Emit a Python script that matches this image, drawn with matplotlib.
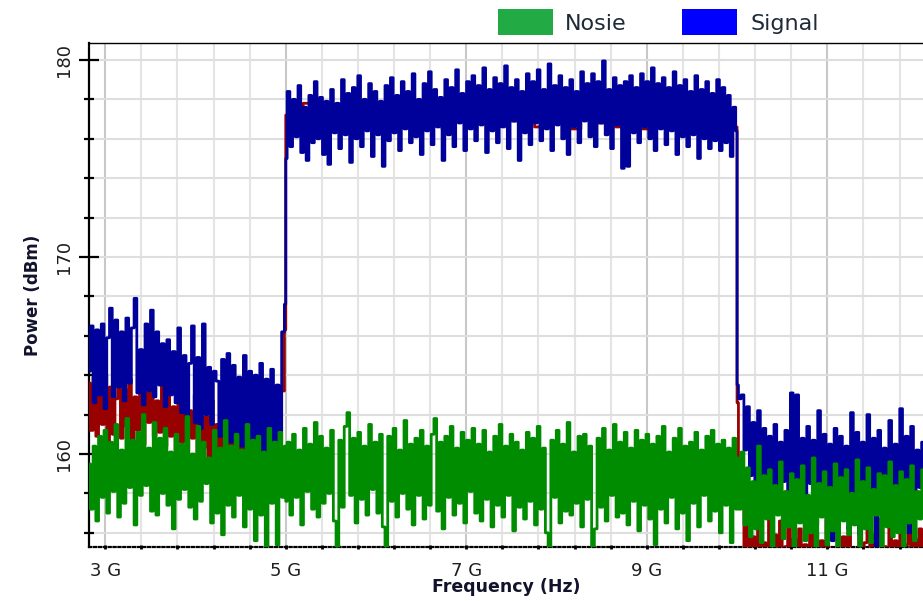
import numpy as np
import matplotlib
matplotlib.use('Agg')
import matplotlib.pyplot as plt
from matplotlib.patches import Rectangle
from matplotlib.ticker import FixedLocator

# band edges in GHz: below the carrier, the occupied band, above it
band_edges = [2.82, 5.0, 10.0, 12.06]

# signal trace (blue), one list per band
signal_low = [164.2, 166.5, 162.6, 166.3, 163.0, 166.6, 162.3, 165.9, 167.4, 162.9,
              166.8, 163.4, 166.2, 162.7, 166.9, 163.6, 166.4, 167.9, 163.1, 165.3,
              162.5, 166.6, 163.2, 167.3, 162.9, 166.2, 163.5, 165.6, 162.4, 165.8,
              163.0, 165.2, 162.6, 166.4, 162.1, 165.0, 161.8, 164.6, 166.5, 161.6,
              164.9, 161.3, 166.6, 162.0, 164.4, 161.5, 164.2, 163.7, 160.9, 164.8,
              161.2, 165.1, 160.6, 164.5, 161.0, 163.9, 160.4, 165.0, 159.9, 164.2,
              158.7, 164.0, 160.3, 164.6, 159.6, 163.8, 160.1, 164.3, 159.2, 163.5,
              160.0, 166.2, 167.6]
signal_mid = [175.0, 178.4, 175.6, 178.0, 176.1, 178.7, 175.3, 177.6, 174.9, 178.2,
              175.8, 178.9, 176.0, 178.1, 175.2, 177.9, 174.7, 178.5, 176.3, 177.8,
              175.5, 179.0, 176.2, 178.3, 174.8, 178.6, 176.0, 179.2, 175.6, 178.0,
              176.4, 178.8, 175.1, 178.4, 176.2, 177.9, 174.6, 178.7, 175.9, 179.1,
              176.3, 178.2, 175.4, 178.9, 176.5, 178.4, 175.8, 179.3, 176.1, 178.0,
              175.2, 178.8, 176.4, 179.4, 175.7, 178.5, 176.6, 178.1, 174.9, 179.0,
              176.2, 178.6, 175.6, 179.5, 176.8, 178.3, 175.4, 178.9, 176.5, 179.2,
              175.9, 178.7, 176.7, 179.6, 175.3, 178.5, 176.4, 179.1, 175.8, 178.8,
              176.6, 179.7, 175.5, 178.6, 176.9, 179.0, 174.9, 178.4, 176.3, 179.3,
              175.7, 178.9, 176.8, 179.5, 175.9, 178.5, 176.5, 179.8, 175.4, 178.7,
              176.7, 179.2, 176.0, 178.6, 175.2, 179.0, 176.6, 178.4, 175.8, 179.4,
              176.9, 178.8, 176.1, 179.3, 175.6, 178.9, 176.8, 179.95, 176.2, 178.5,
              175.5, 179.1, 176.7, 178.7, 174.5, 178.9, 174.6, 179.2, 176.3, 178.6,
              175.8, 179.3, 176.6, 178.9, 176.0, 179.6, 175.4, 178.8, 176.5, 179.1,
              175.7, 178.6, 176.4, 179.4, 175.2, 178.7, 176.1, 179.0, 175.6, 178.4,
              176.2, 179.2, 175.0, 178.5, 176.0, 178.9, 175.5, 178.3, 175.9, 179.0,
              175.4, 178.6, 175.8, 178.2, 175.1, 177.6, 176.4]
signal_high = [163.5, 162.8, 163.0, 160.2, 162.4, 158.9, 161.6, 157.6, 162.2, 158.4,
               161.3, 156.9, 160.9, 158.1, 161.5, 157.3, 160.6, 158.6, 161.2, 156.8,
               163.1, 157.9, 163.0, 158.3, 160.8, 157.1, 161.4, 158.5, 160.7, 156.4,
               162.2, 157.8, 161.0, 158.2, 160.5, 155.6, 161.3, 157.5, 160.9, 158.0,
               160.4, 156.2, 162.1, 157.7, 161.1, 155.9, 160.6, 158.4, 162.0, 157.2,
               160.8, 155.3, 161.2, 157.9, 160.3, 158.6, 161.7, 156.6, 160.5, 157.3,
               162.3, 158.1, 160.9, 156.0, 161.4, 157.6, 160.2, 158.3, 160.6]

# reference trace (dark red), sits under the signal
ref_low = [163.6, 161.2, 163.9, 160.9, 163.2, 161.5, 164.0, 160.6, 163.4, 161.0,
           162.8, 163.7, 160.8, 163.3, 161.4, 163.8, 160.7, 162.9, 161.2, 163.5,
           160.5, 163.1, 161.6, 164.1, 160.9, 162.7, 161.1, 163.6, 160.4, 163.0,
           160.9, 162.4, 160.2, 163.3, 160.6, 162.6, 159.9, 162.2, 160.8, 163.0,
           159.7, 162.5, 160.3, 161.9, 159.6, 162.7, 160.1, 161.5, 159.4, 162.3,
           159.9, 161.8, 159.2, 162.0, 159.7, 161.6, 158.9, 161.4, 159.5, 162.1,
           158.6, 161.2, 159.3, 161.7, 158.8, 161.0, 159.1, 161.9, 158.7, 161.3,
           159.6, 163.2, 166.3]
ref_mid = [177.2, 176.4, 177.8, 176.6, 177.5, 176.5, 177.9, 176.8, 177.7, 176.6,
           177.9, 176.7, 177.4, 177.8, 176.5, 177.6, 176.8, 177.9, 176.6, 177.7,
           176.9, 177.8, 176.6, 177.5, 177.9, 176.5, 177.8, 176.8, 177.9, 176.6,
           177.3, 176.5, 177.8, 176.9, 177.6, 176.4, 177.7, 176.5, 177.2, 176.6]
ref_high = [162.6, 159.4, 157.6, 155.1, 156.4, 154.2, 155.8, 153.9, 156.9, 154.6,
            155.5, 153.7, 157.2, 154.9, 155.9, 154.1, 156.6, 153.5, 155.3, 157.8,
            154.4, 155.7, 153.8, 156.2, 154.7, 155.4, 153.6, 157.3, 154.8, 156.0,
            154.0, 155.6, 153.4, 156.8, 154.5, 155.2, 153.9, 157.1, 154.3, 155.8,
            153.6, 156.3, 154.9, 155.1, 153.7, 156.5, 154.2, 155.5, 157.4, 154.6,
            155.9, 153.8, 156.7, 154.1, 155.3, 153.5, 157.0, 154.8, 155.6, 154.0,
            156.1, 153.9, 155.4, 157.5, 154.4, 155.7, 153.6, 156.2, 154.7]

# noise floor (green)
noise_low = [159.5, 157.2, 160.4, 156.6, 160.9, 157.8, 161.2, 157.0, 160.6, 158.1,
             161.5, 156.8, 160.2, 157.5, 161.8, 158.3, 160.7, 156.4, 161.1, 157.9,
             162.0, 158.4, 160.3, 157.1, 161.6, 156.9, 160.8, 158.0, 161.3, 157.4,
             160.1, 156.2, 161.0, 157.7, 160.5, 158.2, 161.9, 157.3, 160.0, 156.7,
             161.4, 157.6, 160.6, 158.5, 159.8, 156.5, 161.2, 157.0, 160.3, 155.9,
             161.7, 157.4, 160.4, 156.8, 161.0, 157.9, 160.2, 156.3, 161.5, 157.2,
             160.7, 155.6, 160.9, 156.9, 160.1, 155.0, 161.3, 157.5, 160.6, 155.4,
             161.1, 157.8, 160.4]
noise_mid = [157.6, 160.6, 156.9, 161.0, 157.8, 160.2, 156.4, 161.3, 158.1, 160.5,
             157.2, 161.6, 156.8, 160.9, 157.5, 160.3, 158.0, 161.2, 156.6, 155.0,
             160.7, 157.3, 161.4, 162.1, 157.9, 160.8, 156.5, 161.1, 157.7, 160.4,
             156.9, 161.5, 158.2, 160.6, 157.0, 161.0, 156.3, 155.1, 160.9, 157.6,
             161.3, 156.8, 160.2, 158.0, 161.7, 157.2, 160.5, 156.4, 160.8, 157.9,
             161.2, 156.7, 160.4, 157.4, 161.0, 161.8, 157.1, 160.6, 156.2, 160.9,
             157.8, 161.4, 156.9, 160.3, 157.5, 161.1, 156.5, 160.7, 158.1, 161.3,
             157.0, 160.5, 156.6, 161.2, 157.7, 160.1, 156.3, 160.9, 157.4, 161.5,
             156.8, 160.4, 157.9, 161.0, 156.1, 160.6, 157.3, 160.2, 156.7, 161.1,
             157.6, 160.8, 156.4, 161.4, 157.2, 160.3, 156.0, 155.0, 160.7, 157.8,
             161.2, 156.5, 160.5, 157.1, 161.6, 156.9, 160.1, 157.5, 160.9, 156.3,
             161.0, 157.7, 160.4, 155.0, 156.2, 160.8, 157.3, 161.3, 156.6, 160.2,
             157.9, 161.5, 156.8, 160.6, 157.0, 161.1, 156.4, 160.3, 157.6, 161.2,
             156.1, 160.7, 157.4, 161.0, 156.7, 160.5, 155.4, 160.9, 157.2, 161.4,
             156.5, 160.1, 157.8, 160.8, 156.2, 161.3, 157.0, 160.4, 155.6, 160.6,
             157.5, 161.1, 156.3, 160.2, 157.9, 160.9, 156.6, 161.2, 157.1, 160.5,
             156.0, 160.7, 157.4, 160.3, 155.5, 160.8, 157.2]
noise_high = [159.8, 157.2, 160.1, 156.4, 159.3, 155.8, 158.6, 156.2, 160.4, 155.5,
              158.9, 156.7, 159.2, 155.1, 158.4, 156.9, 159.6, 155.7, 158.1, 156.3,
              159.0, 154.9, 158.7, 156.5, 159.4, 155.6, 157.9, 156.0, 159.8, 155.2,
              158.5, 156.8, 159.1, 155.4, 158.3, 156.1, 159.5, 154.8, 158.8, 156.6,
              159.2, 155.9, 158.0, 156.4, 159.7, 155.0, 158.6, 156.2, 159.3, 155.5,
              158.2, 156.9, 159.0, 154.7, 158.9, 156.3, 159.6, 155.8, 158.4, 156.0,
              159.1, 155.3, 158.7, 156.5, 159.4, 155.6, 158.1, 156.7, 159.2]

freq_ticks = [3, 5, 7, 9, 11]
freq_labels = ['3 G', '5 G', '7 G', '9 G', '11 G']
power_ticks = [160, 170, 180]
legend_names = ['Nosie', 'Signal']


def stitch(parts):
    # each band gets its own evenly spaced frequency bins
    xs = [np.linspace(lo, hi, len(p)) for lo, hi, p in zip(band_edges[:-1], band_edges[1:], parts)]
    return np.concatenate(xs), np.concatenate(parts)


W, H = 923, 601
fig = plt.figure(figsize=(W / 100, H / 100), dpi=100)
ax = fig.add_axes([89 / W, (H - 547) / H, (W - 89) / W, (547 - 43) / H])

# snapping off, otherwise the step traces break up into separate bars
x, y = stitch([ref_low, ref_mid, ref_high])
ax.plot(x, y, color='#990000', lw=2.0, drawstyle='steps-mid', snap=False, zorder=3)
x, y = stitch([signal_low, signal_mid, signal_high])
ax.plot(x, y, color='#00009a', lw=2.0, drawstyle='steps-mid', snap=False, zorder=4)
x, y = stitch([noise_low, noise_mid, noise_high])
ax.plot(x, y, color='#008c00', lw=2.0, drawstyle='steps-mid', snap=False, zorder=5)

ax.set_xlim(2.82, 12.06)
ax.set_ylim(155.28, 180.86)

ax.xaxis.set_major_locator(FixedLocator(freq_ticks))
ax.xaxis.set_minor_locator(FixedLocator(np.arange(3.0, 12.1, 0.4)))
ax.set_xticklabels(freq_labels)
ax.yaxis.set_major_locator(FixedLocator(power_ticks))
ax.yaxis.set_minor_locator(FixedLocator(np.arange(156, 181, 2)))

ax.grid(which='major', axis='x', color='#c8c8c8', lw=1.5, zorder=0)
ax.grid(which='minor', axis='x', color='#e4e4e4', lw=1.5, zorder=0)
ax.grid(which='both', axis='y', color='#dedede', lw=1.5, zorder=0)
ax.set_axisbelow(True)

ax.spines['right'].set_visible(False)
ax.spines['left'].set_linewidth(1.6)
ax.spines['top'].set_linestyle((0, (1, 1)))
ax.spines['top'].set_linewidth(1.0)
ax.spines['bottom'].set_linestyle((0, (1, 1.2)))
ax.spines['bottom'].set_linewidth(1.6)

ax.tick_params(axis='y', which='major', direction='inout', length=15, width=1.6, pad=4,
               labelsize=13, labelcolor='#1e1e1e', labelrotation=90)
ax.tick_params(axis='y', which='minor', direction='inout', length=7, width=1.6)
ax.tick_params(axis='x', which='both', direction='inout', length=3, width=2.0)
ax.tick_params(axis='x', which='major', pad=9, labelsize=13, labelcolor='#1e1e1e')
for lab in ax.get_yticklabels():
    lab.set_va('center')

ax.set_xlabel('Frequency (Hz)', fontsize=12.5, fontweight='bold', color='#12122c')
ax.xaxis.set_label_coords(0.5, -0.062)
ax.set_ylabel('Power (dBm)', fontsize=12, fontweight='bold', color='#12122c')
ax.yaxis.set_label_coords(-0.056, 0.5)

# legend swatches across the top
swatches = [('#22aa44', 498, 565), ('#0000ff', 682, 750)]
for (col, x0, tx), name in zip(swatches, legend_names):
    fig.add_artist(Rectangle((x0 / W, 1 - 35 / H), 55 / W, 26 / H, transform=fig.transFigure,
                             facecolor=col, edgecolor='none'))
    fig.text(tx / W, 1 - 30 / H, name, fontsize=16, color='#1f2a38', va='baseline', ha='left')

fig.savefig('out.png', dpi=100)
